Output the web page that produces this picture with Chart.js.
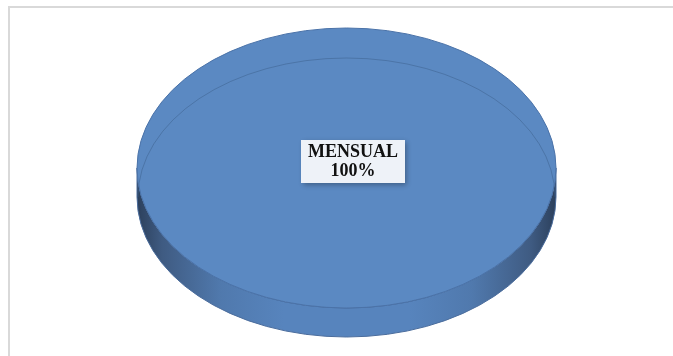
<!DOCTYPE html>
<html>
<head>
<meta charset="utf-8">
<script src="https://cdn.jsdelivr.net/npm/chart.js@4"></script>
<style>
html, body { margin: 0; padding: 0; background: #fff; }
#wrap { position: relative; width: 673px; height: 356px; overflow: hidden; }
#frame { position: absolute; left: 8px; top: 6px; width: 720px; height: 400px;
         border-left: 2px solid #d9d9d9; border-top: 2px solid #d9d9d9; }
canvas { position: absolute; left: 0; top: 0; }
</style>
</head>
<body>
<div id="wrap">
  <div id="frame"></div>
  <canvas id="pieChart" width="673" height="356"></canvas>
</div>
<script>
// ============================
// Dados
// ============================
const categories = ["MENSUAL"];
const values = [100];

const faceColor = "#5b89c2";
const edgeColor = "#4a72a8";
const depth = 29; // espessura do "3D"

// ============================
// Plugin: pizza 3D elíptica
// ============================
const pie3d = {
    id: "pie3d",
    beforeDatasetsDraw(chart) {
        const ctx = chart.ctx;
        const area = chart.chartArea;
        const arc = chart.getDatasetMeta(0).data[0];
        const R = arc.outerRadius;
        const sx = (area.right - area.left) / (area.bottom - area.top);
        const rx = R * sx;

        // lateral (faixa entre a elipse de cima e a de baixo)
        const grad = ctx.createLinearGradient(arc.x - rx, 0, arc.x + rx, 0);
        grad.addColorStop(0, "#2c405c");
        grad.addColorStop(0.06, "#3f5b82");
        grad.addColorStop(0.2, "#5079ad");
        grad.addColorStop(0.35, "#5784bd");
        grad.addColorStop(0.65, "#5784bd");
        grad.addColorStop(0.8, "#5079ad");
        grad.addColorStop(0.94, "#3f5b82");
        grad.addColorStop(1, "#2c405c");

        ctx.save();
        ctx.beginPath();
        ctx.ellipse(arc.x, arc.y + depth, rx, R, 0, 0, Math.PI);
        ctx.lineTo(arc.x - rx, arc.y);
        ctx.ellipse(arc.x, arc.y, rx, R, 0, Math.PI, 0, true);
        ctx.closePath();
        ctx.fillStyle = grad;
        ctx.fill();
        ctx.lineWidth = 1;
        ctx.strokeStyle = "#4a6c9c";
        ctx.stroke();
        ctx.restore();

        // estica o círculo para virar elipse
        ctx.save();
        ctx.translate(arc.x, arc.y);
        ctx.scale(sx, 1);
        ctx.translate(-arc.x, -arc.y);
    },
    afterDatasetsDraw(chart) {
        const ctx = chart.ctx;
        ctx.restore();

        const area = chart.chartArea;
        const arc = chart.getDatasetMeta(0).data[0];
        const R = arc.outerRadius;
        const rx = R * (area.right - area.left) / (area.bottom - area.top);

        // contorno da face superior e aresta de trás da base
        ctx.save();
        ctx.lineWidth = 1;
        ctx.strokeStyle = "rgba(60,95,140,0.5)";
        ctx.beginPath();
        ctx.ellipse(arc.x, arc.y + depth, rx - 1, R - 1, 0, Math.PI, 2 * Math.PI);
        ctx.stroke();
        ctx.strokeStyle = edgeColor;
        ctx.beginPath();
        ctx.ellipse(arc.x, arc.y, rx, R, 0, 0, 2 * Math.PI);
        ctx.stroke();
        ctx.restore();

        // rótulo
        const total = values.reduce((a, b) => a + b, 0);
        const line1 = categories[0];
        const line2 = Math.round(values[0] / total * 100) + "%";
        ctx.save();
        ctx.font = "bold 18px 'Liberation Serif', 'DejaVu Serif', serif";
        const w = Math.max(ctx.measureText(line1).width, ctx.measureText(line2).width) + 14;
        const h = 43;
        const cx = arc.x + 6.5;
        const cy = arc.y - 6.5;
        ctx.shadowColor = "rgba(0,0,0,0.3)";
        ctx.shadowBlur = 5;
        ctx.shadowOffsetX = 2;
        ctx.shadowOffsetY = 2;
        ctx.fillStyle = "#eef2f8";
        ctx.fillRect(cx - w / 2, cy - h / 2, w, h);
        ctx.shadowColor = "transparent";
        ctx.fillStyle = "#111";
        ctx.textAlign = "center";
        ctx.textBaseline = "middle";
        ctx.fillText(line1, cx, cy - 9);
        ctx.fillText(line2, cx, cy + 10);
        ctx.restore();
    }
};

// ============================
// Gráfico
// ============================
new Chart(document.getElementById("pieChart"), {
    type: "pie",
    data: {
        labels: categories,
        datasets: [{
            data: values,
            backgroundColor: faceColor,
            borderColor: faceColor,
            borderWidth: 0
        }]
    },
    options: {
        responsive: false,
        animation: false,
        layout: { padding: { left: 137, right: 117, top: 28, bottom: 48 } },
        plugins: {
            legend: { display: false },
            tooltip: { enabled: false }
        }
    },
    plugins: [pie3d]
});
</script>
</body>
</html>
